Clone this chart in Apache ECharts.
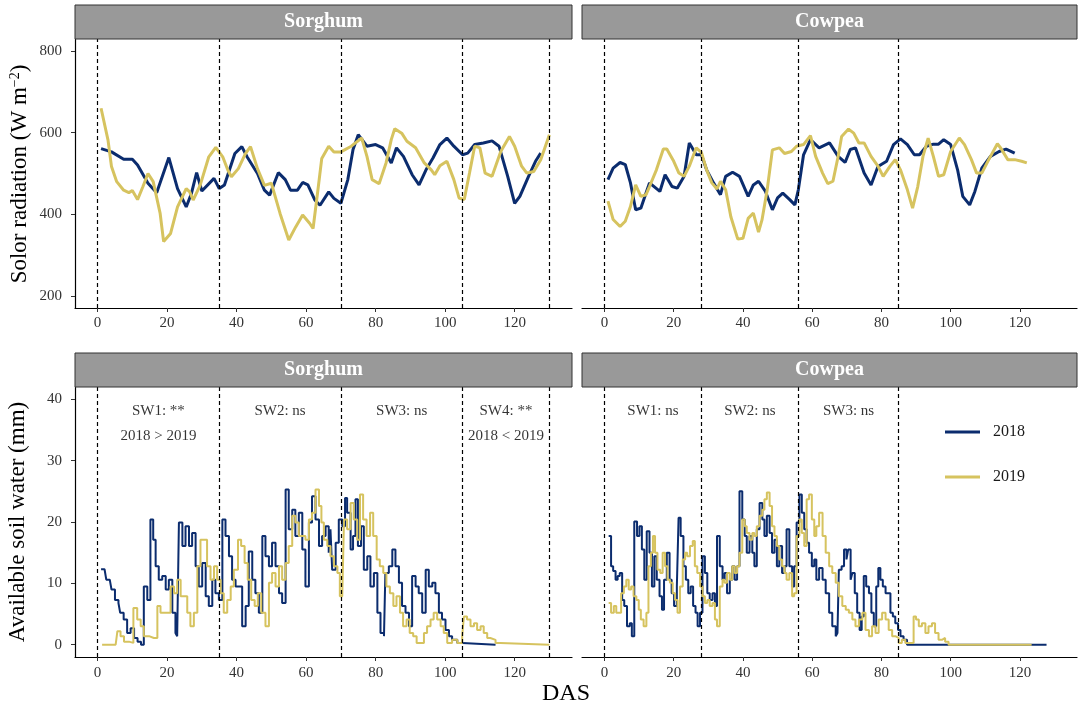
<!DOCTYPE html>
<html>
<head>
<meta charset="utf-8">
<script src="https://cdn.jsdelivr.net/npm/echarts@6/dist/echarts.min.js"></script>
<style>
html,body{margin:0;padding:0;background:#fff;}
#chart{width:1084px;height:708px;}
</style>
</head>
<body>
<div id="chart"></div>
<script>
// ---------- DATA ----------
const panelTitles = ['Sorghum', 'Cowpea'];
const seriesNames = ['2018', '2019'];
const xTicks = [0, 20, 40, 60, 80, 100, 120];
const radTicks = [200, 400, 600, 800];
const swTicks = [0, 10, 20, 30, 40];
const vlinesSorghum = [0, 35, 70, 105, 130];
const vlinesCowpea = [0, 28, 56, 85];

// Solar radiation, sorghum [DAS, W m-2]
const radSorghum2018 = [[1,561],[4,553],[7.5,535],[10,535],[11.5,521],[14.5,476],[17,453],[20.5,539],[23,463],[25.5,418],[27,451],[28.5,502],[30,457],[33.5,488],[35,463],[36.5,472],[39.5,549],[41.5,566],[43,541],[46,500],[48,459],[49.5,447],[52,502],[54,485],[55.5,459],[57.5,459],[59,478],[60.5,472],[62.5,435],[64,422],[66.5,455],[68,439],[70,427],[72,485],[73.5,559],[75,595],[77.5,567],[80,571],[82,563],[84.5,526],[86,563],[88,542],[90.5,497],[92.5,472],[94.5,509],[96.5,538],[98.5,571],[100.5,587],[102.5,567],[105,546],[106.5,550],[108.5,571],[111,575],[113.5,580],[115.5,567],[118,493],[120,427],[121.5,444],[124,493],[126,530],[127.5,550]];
const radSorghum2019 = [[1,660],[3,582],[4,517],[5.5,480],[7.5,459],[9,453],[10,458],[11.5,436],[13,467],[14.5,500],[16,480],[18,402],[19,333],[21,353],[23,418],[25.5,463],[26.5,455],[27.5,435],[29.5,471],[32,541],[34,564],[36,541],[37.5,508],[38.5,492],[40.5,512],[42.5,548],[44,566],[46,512],[48,471],[50,476],[52.5,402],[55,337],[57,369],[59,398],[61,378],[62,365],[63.5,467],[64.5,537],[66.5,567],[68,553],[70,553],[73,567],[76,587],[77.5,542],[79,485],[81,475],[83,526],[84.5,583],[85.5,610],[87.5,599],[89,579],[91.5,563],[94,526],[96,509],[97,497],[98.5,519],[100.5,530],[102.5,485],[104,440],[105.5,436],[107,501],[108.5,567],[110,563],[111.5,501],[113.5,493],[116,554],[118.5,591],[120,567],[122,518],[123.5,501],[125.5,505],[127.5,534],[130,595]];

// Solar radiation, cowpea
const radCowpea2018 = [[1,485],[2.5,513],[4.5,527],[6,522],[7.5,477],[9,411],[10.5,415],[12,452],[13,477],[16,456],[17.5,497],[19.5,468],[21,464],[23,493],[24.5,575],[26.5,546],[28,546],[29.5,509],[31.5,477],[33.5,448],[35,493],[37,503],[39,493],[41.5,444],[43,472],[44.5,481],[46.5,456],[48.5,411],[50,440],[51.5,452],[53.5,436],[55,423],[56,460],[57.5,546],[59.5,583],[62,563],[65,575],[67.5,542],[69.5,527],[71,559],[72.5,563],[75,501],[77,472],[79,517],[81.5,530],[83.5,571],[85.5,585],[87.5,571],[89.5,546],[91,546],[93,567],[95,572],[96.5,572],[98,583],[100,571],[102,509],[103.5,444],[105.5,423],[107,456],[109,513],[111.5,542],[114,554],[116,560],[118.5,550]];
const radCowpea2019 = [[1,432],[2.5,387],[4.5,370],[6,383],[7.5,419],[9,472],[10.5,444],[12,448],[13,468],[15,509],[17,560],[18,560],[20,530],[21.5,501],[23,493],[24.5,518],[26.5,563],[28,552],[29.5,509],[31,477],[32.5,462],[33.5,481],[35,460],[36.5,394],[38.5,339],[40,341],[41.5,390],[43,403],[44.5,356],[45.5,386],[47,460],[48.5,558],[50.5,563],[52,549],[54,554],[55.5,567],[57.5,571],[59.5,593],[61,542],[63,501],[64.5,475],[66,481],[67.5,542],[68.5,591],[70.5,609],[72,599],[73.5,575],[75,575],[77,542],[79,518],[80.5,493],[82.5,518],[84,534],[85.5,509],[87.5,460],[89,415],[90.5,468],[92,542],[93.5,587],[95,542],[96.5,493],[98,497],[100,554],[102.5,587],[104,571],[106,534],[107.5,501],[109,501],[111,534],[113.5,573],[114.5,562],[116.5,534],[118.5,534],[120.5,530],[122,526]];

// Available soil water, sorghum [DAS, mm]
const swSorghum2018 = [[1,12.3],[2,12.3],[2.5,10.6],[3.5,10.3],[4,9],[5,7.3],[6,6.8],[6.5,5.2],[7.5,4.1],[8.5,1.9],[9.5,2.7],[10.5,1.1],[11.5,0.5],[12.5,0],[13.3,9.5],[14.3,7.3],[15.2,20.4],[16,17.1],[16.7,12.8],[17.6,10.6],[18.6,11.2],[19.6,9],[20.5,10.6],[21.5,5.2],[22.4,1.9],[22.9,1.4],[23.4,19.9],[24.4,16.1],[25.3,19.3],[26.3,16.1],[27.2,18.2],[28.2,12.8],[29.1,9.5],[30.1,13.3],[31.1,7.9],[32,6.3],[33,10.6],[33.9,8.4],[34.9,7.3],[35.9,20.4],[36.8,17.7],[37.8,14.4],[38.7,10.6],[39.7,9.5],[40.7,9.5],[41.6,3],[42.6,6.3],[43.5,15.2],[44.5,10.6],[45.4,8.4],[46.4,5.2],[47.4,17.7],[48.3,14.4],[49.3,12.8],[50.2,16.6],[51.2,12.8],[52.2,8.4],[53.1,6.8],[54.1,25.3],[55,18.8],[56,22],[56.9,17.7],[57.9,21.5],[58.9,15.5],[59.8,9.5],[60.8,19.9],[61.7,24.2],[62.7,20.4],[63.7,16.1],[64.6,17.7],[65.6,19.3],[66.5,15],[67,18.8],[67.5,12.2],[68.5,16.6],[69.4,20.4],[70.4,19.3],[71.2,23.9],[71.8,21.5],[72.8,15.5],[73.5,17.7],[74.2,23.7],[74.9,16.1],[75.8,19.3],[76.6,12.2],[77.6,14.4],[78.5,9.5],[79.5,11.7],[80.5,5.2],[81.4,1.9],[82.4,1.4],[82.8,11.7],[83.8,12.8],[84.8,15.5],[85.7,12.8],[86.7,10.1],[87.6,6.3],[88.6,5.2],[89.6,3],[90.5,11.2],[91.5,9.5],[92.4,8.4],[93.4,5.2],[94.4,12.2],[95.3,9.5],[96.3,10.1],[97.2,8.4],[98.2,5.2],[99.1,4.1],[100.1,2.4],[101.1,1.4],[102,0.8],[103.5,0.3],[105,0],[114.5,0]];
const swSorghum2019 = [[1.3,0],[5.2,0],[5.7,2.2],[6.6,1.4],[7.6,0.5],[9,0.3],[10.3,6],[11.4,4.1],[12.4,3],[13.3,1.4],[14.8,1.1],[16.2,1.1],[17.2,6.3],[18.1,5.2],[19.6,5.2],[21,9.5],[22,8.4],[22.9,10.6],[23.9,7.9],[24.8,7.9],[25.8,5.2],[26.7,3],[27.7,5.2],[28.7,12.8],[29.6,17.1],[30.6,17.1],[31.5,12.8],[32.5,10.6],[33.5,12.8],[34.4,10.6],[35.4,8.4],[36.3,5.2],[37.3,7.3],[38.3,9.5],[39.2,12.2],[40.4,17.1],[41.3,16.1],[42.3,13.3],[43.2,10.6],[44.2,7.3],[45.2,6.3],[46.1,8.4],[47.1,5.2],[48.3,3],[49.3,10.1],[50.2,11.7],[51.2,9.5],[52.2,12.8],[53.1,10.6],[54.1,13.3],[55,16.1],[56,21],[56.9,19.9],[57.9,17.7],[58.9,17.7],[59.8,17.1],[60.8,20.4],[61.7,21.5],[62.7,25.3],[63.7,22.6],[64.4,19.9],[65.1,17.1],[66.1,16.1],[67,14.4],[68,12.8],[69,11.7],[69.7,7.9],[70.4,7.9],[70.9,20.4],[71.8,18.8],[72.8,23.1],[73.7,20.4],[74.7,17.1],[75.5,24.5],[76.4,20.4],[77.4,17.7],[78.4,21.5],[79.3,17.7],[80.3,13.9],[81.2,12.8],[82.2,11.7],[83.1,9.5],[84.1,8.4],[85.1,6.3],[86,7.9],[87,5.2],[87.9,3],[88.9,4.1],[89.8,1.9],[90.8,1.4],[91.8,0.3],[92.9,0.3],[93.9,1.9],[94.8,3],[95.8,4.1],[96.7,5.2],[97.7,4.1],[98.7,3],[99.6,1.9],[100.6,0.3],[102,0.8],[103.5,0.3],[104.9,1.4],[105.4,4.6],[106.3,4.1],[107.3,3],[108.3,3.5],[109.2,2.4],[110.2,3],[111.1,1.9],[112.1,1.1],[113,0.8],[114.5,0.3],[115.9,0],[130,0]];

// Available soil water, cowpea
const swCowpea2018 = [[1.2,17.7],[1.9,12.8],[2.5,12],[3.2,10.6],[3.8,11.2],[4.4,11.7],[5.1,7.3],[5.7,6.3],[6.5,3],[7.3,3.5],[7.9,1.4],[8.6,20.1],[9.4,17.7],[10.1,19.3],[10.8,15.5],[11.5,10.6],[12.2,18.5],[13,15],[13.7,9.5],[14.4,14.4],[15.1,10.6],[15.9,7.9],[16.6,5.7],[17.2,10.6],[18,15],[18.8,10.6],[19.4,8.4],[20.1,6.3],[20.9,9.5],[21.4,20.7],[22,17.7],[22.8,12.8],[23.5,10.6],[24.2,8.4],[24.9,9.5],[25.6,6.3],[26.3,5.2],[26.9,3],[27.6,5.2],[28.3,14.4],[29,11.7],[29.7,8.4],[30.4,7.3],[31.2,8.4],[31.9,6.3],[32.5,17.7],[33.3,12.8],[34.1,10.6],[34.7,11.7],[35.4,8.4],[36.2,10.6],[36.9,12.8],[37.6,10.6],[38.3,12.8],[39,25],[39.8,20.4],[40.5,17.7],[41.1,15],[41.9,17.7],[42.7,15],[43.3,12.8],[44,18.8],[44.8,23.1],[45.6,20.4],[46.2,17.7],[46.9,21],[47.7,18.2],[48.4,15],[49.1,17.1],[49.8,12.8],[50.5,16.1],[51.3,11.7],[52,12.8],[52.6,18.8],[53.4,12.8],[54.2,9.5],[54.8,12.8],[55.5,19.9],[56.3,24.5],[57,21.5],[57.7,18.8],[58.4,16.6],[59.1,15],[59.9,12.8],[60.6,13.9],[61.2,10.6],[62,12.5],[63,10.6],[63.9,8.4],[64.9,5.2],[65.8,3],[66.8,1.4],[67.3,1.9],[67.7,12.2],[68.5,12.8],[69.2,15.5],[69.9,13.9],[70.4,15.5],[71.1,10.6],[71.6,11.7],[72.3,8.4],[73,5.2],[73.7,2.4],[74.3,4.6],[74.9,11.2],[75.6,9.5],[76.4,8.4],[77.1,5.2],[77.8,3],[78.5,9.5],[79.1,12.5],[79.7,10.6],[80.4,9.5],[81.2,8.4],[81.9,8.4],[82.6,5.2],[83.3,4.6],[84,3.5],[84.8,2.4],[85.5,1.4],[86.4,0.8],[87.4,0],[127.7,0]];
const swCowpea2019 = [[1.2,6.8],[1.9,5.2],[2.7,6.3],[3.4,5.2],[4.1,5.2],[4.8,8.4],[5.6,9.5],[6.3,10.6],[7,9],[7.7,9.5],[8.4,7.9],[9.2,7.3],[9.9,5.7],[10.5,4.1],[11.3,3],[12.1,5.2],[12.7,12.8],[13.4,15],[14,17.7],[14.6,15],[15.3,12.2],[16.1,11.7],[16.8,15],[17.5,12.8],[18.2,10.6],[18.9,10.1],[19.7,8.4],[20.4,7.3],[21.1,5.2],[21.8,9.5],[22.6,13.9],[23.3,15],[23.9,14.4],[24.7,16.1],[25.5,16.9],[26.1,12.8],[26.8,11.7],[27.6,9.5],[28.3,7.9],[29,6.8],[29.7,7.3],[30.4,6.3],[31.2,6.8],[31.9,4.1],[32.5,3],[33.3,9.5],[34.1,10.6],[34.7,10.1],[35.4,11.7],[36.2,10.6],[36.9,12.8],[37.6,11.7],[38.3,12.8],[39,15],[39.8,20.4],[40.5,19.3],[41.1,18.2],[41.9,17.1],[42.7,18.2],[43.3,17.7],[44,19.3],[44.8,21],[45.6,22],[46.2,23.7],[46.9,24.8],[47.7,22.6],[48.4,19.3],[49.1,17.7],[49.8,16.1],[50.5,13.9],[51.3,12.8],[52,11.7],[52.6,10.6],[53.4,11.7],[54.2,7.9],[54.8,8.4],[55.5,17.7],[56.3,20.4],[57,18.2],[57.7,16.1],[58.4,23.7],[59.1,24.5],[59.9,20.4],[60.6,17.7],[61.2,19.3],[62,21.5],[63,17.7],[63.9,15],[64.9,12.8],[65.8,11.7],[66.8,10.1],[67.7,7.9],[68.7,6.3],[69.7,5.7],[70.6,5.2],[71.6,4.1],[72.5,3],[73.5,4.1],[74.5,5.2],[75.4,2.4],[76.4,1.4],[77.3,3],[78.3,1.9],[79.2,4.1],[80.2,5.2],[81.2,4.1],[82.1,2.4],[83.1,1.4],[84,1.1],[85,0.3],[85.9,0.8],[86.9,0.3],[88.4,0.3],[89.3,4.6],[90,4.1],[90.8,3],[91.7,3.5],[92.7,1.9],[93.6,3],[94.6,3.5],[95.5,1.9],[96.5,0.8],[97.5,1.1],[98.4,0.5],[99.4,0],[123.4,0]];

// Annotations (stage significance) [DAS, mm, text]
const annSorghumX = [17.5, 17.5, 52.5, 87.5, 117.5, 117.5];
const annSorghumY = [38, 34, 38, 38, 38, 34];
const annSorghumText = ['SW1: **', '2018 > 2019', 'SW2: ns', 'SW3: ns', 'SW4: **', '2018 < 2019'];
const annCowpeaX = [14, 42, 70.5];
const annCowpeaY = [38, 38, 38];
const annCowpeaText = ['SW1: ns', 'SW2: ns', 'SW3: ns'];

// ---------- STYLE / LAYOUT ----------
const FONT = "'Liberation Serif', 'Times New Roman', serif";
const NAVY = '#0B2C6E';
const GOLD = '#D6C35F';
const grids = [
  {left: 75, top: 39, width: 497, height: 269},
  {left: 582, top: 39, width: 495, height: 269},
  {left: 75, top: 387, width: 497, height: 270},
  {left: 582, top: 387, width: 495, height: 270}
];

function xAxis(gi, bottomRow) {
  return {
    type: 'value', gridIndex: gi, min: -6.5, max: 136.5,
    axisLine: {show: true, onZero: false, lineStyle: {color: '#000', width: 1.2}},
    axisTick: {show: true, length: 4, customValues: xTicks, lineStyle: {color: '#333', width: 1}},
    axisLabel: {show: true, customValues: xTicks, margin: bottomRow ? 9 : 8, fontFamily: FONT, fontSize: 15, color: '#333'},
    splitLine: {show: false}
  };
}
function yAxis(gi, isRad, showAxis) {
  const ticks = isRad ? radTicks : swTicks;
  return {
    type: 'value', gridIndex: gi,
    min: isRad ? 170 : -2, max: isRad ? 830 : 42,
    axisLine: {show: showAxis, onZero: false, lineStyle: {color: '#000', width: 1.2}},
    axisTick: {show: showAxis, length: 4, customValues: ticks, lineStyle: {color: '#333', width: 1}},
    axisLabel: {show: showAxis, customValues: ticks, margin: 13, fontFamily: FONT, fontSize: 15, color: '#333'},
    splitLine: {show: false}
  };
}
function vlineMark(vals) {
  return {
    silent: true, symbol: ['none', 'none'], animation: false,
    label: {show: false},
    lineStyle: {type: [4, 3], color: '#000', width: 1.2},
    emphasis: {disabled: true},
    data: vals.map(v => ({xAxis: v}))
  };
}
function lineSeries(name, data, gi, color, width, step, vlines) {
  const s = {
    name: name, type: 'line', xAxisIndex: gi, yAxisIndex: gi, data: data,
    symbol: 'none', showSymbol: false, step: step, smooth: false,
    lineStyle: {color: color, width: width}, itemStyle: {color: color},
    emphasis: {disabled: true}, z: 3
  };
  if (vlines) s.markLine = vlineMark(vlines);
  return s;
}
function annSeries(gi, xs, ys, texts) {
  return {
    name: 'ann' + gi, type: 'scatter', xAxisIndex: gi, yAxisIndex: gi,
    data: xs.map((x, i) => ({value: [x, ys[i]], label: {formatter: texts[i]}})),
    symbolSize: 1, itemStyle: {color: 'rgba(0,0,0,0)'}, silent: true,
    label: {show: true, position: 'inside', fontFamily: FONT, fontSize: 15, color: '#000', textBorderWidth: 0},
    z: 5
  };
}
function strip(x, y, w, text) {
  return [
    {type: 'rect', shape: {x: x, y: y, width: w, height: 34}, style: {fill: '#999999', stroke: '#333', lineWidth: 1}, z: 10},
    {type: 'text', x: x + w / 2, y: y + 17, style: {text: text, fill: '#fff', font: 'bold 20px ' + FONT, textAlign: 'center', textVerticalAlign: 'middle'}, z: 11}
  ];
}

const option = {
  animation: false,
  backgroundColor: '#fff',
  grid: grids,
  xAxis: [xAxis(0, false), xAxis(1, false), xAxis(2, true), xAxis(3, true)],
  yAxis: [yAxis(0, true, true), yAxis(1, true, false), yAxis(2, false, true), yAxis(3, false, false)],
  legend: {
    data: seriesNames.map(n => ({name: n, icon: 'rect'})),
    orient: 'vertical', left: 940, top: 419,
    itemWidth: 35, itemHeight: 3, itemGap: 29,
    textStyle: {fontFamily: FONT, fontSize: 16, color: '#1a1a1a', padding: [0, 0, 0, 8]},
    selectedMode: false
  },
  series: [
    lineSeries(seriesNames[0], radSorghum2018, 0, NAVY, 3, false, vlinesSorghum),
    lineSeries(seriesNames[1], radSorghum2019, 0, GOLD, 3, false, null),
    lineSeries(seriesNames[0], radCowpea2018, 1, NAVY, 3, false, vlinesCowpea),
    lineSeries(seriesNames[1], radCowpea2019, 1, GOLD, 3, false, null),
    lineSeries(seriesNames[0], swSorghum2018, 2, NAVY, 2, 'end', vlinesSorghum),
    lineSeries(seriesNames[1], swSorghum2019, 2, GOLD, 2, 'end', null),
    lineSeries(seriesNames[0], swCowpea2018, 3, NAVY, 2, 'end', vlinesCowpea),
    lineSeries(seriesNames[1], swCowpea2019, 3, GOLD, 2, 'end', null),
    annSeries(2, annSorghumX, annSorghumY, annSorghumText),
    annSeries(3, annCowpeaX, annCowpeaY, annCowpeaText)
  ],
  graphic: [].concat(
    strip(75, 5, 497, panelTitles[0]),
    strip(582, 5, 495, panelTitles[1]),
    strip(75, 353, 497, panelTitles[0]),
    strip(582, 353, 495, panelTitles[1]),
    [
      {type: 'text', x: 566, y: 694, style: {text: 'DAS', fill: '#000', font: '24px ' + FONT, textAlign: 'center', textVerticalAlign: 'middle'}},
      {type: 'text', x: 20, y: 174, rotation: Math.PI / 2,
       style: {text: 'Solor radiation (W m{sup|\u22122})', fill: '#000', font: '23px ' + FONT, textAlign: 'center', textVerticalAlign: 'middle',
               rich: {sup: {fontSize: 14, fontFamily: FONT, fill: '#000', verticalAlign: 'top'}}}},
      {type: 'text', x: 18, y: 522, rotation: Math.PI / 2,
       style: {text: 'Available soil water (mm)', fill: '#000', font: '23px ' + FONT, textAlign: 'center', textVerticalAlign: 'middle'}}
    ]
  )
};

const chart = echarts.init(document.getElementById('chart'), null, {renderer: 'canvas'});
chart.setOption(option);
</script>
</body>
</html>
